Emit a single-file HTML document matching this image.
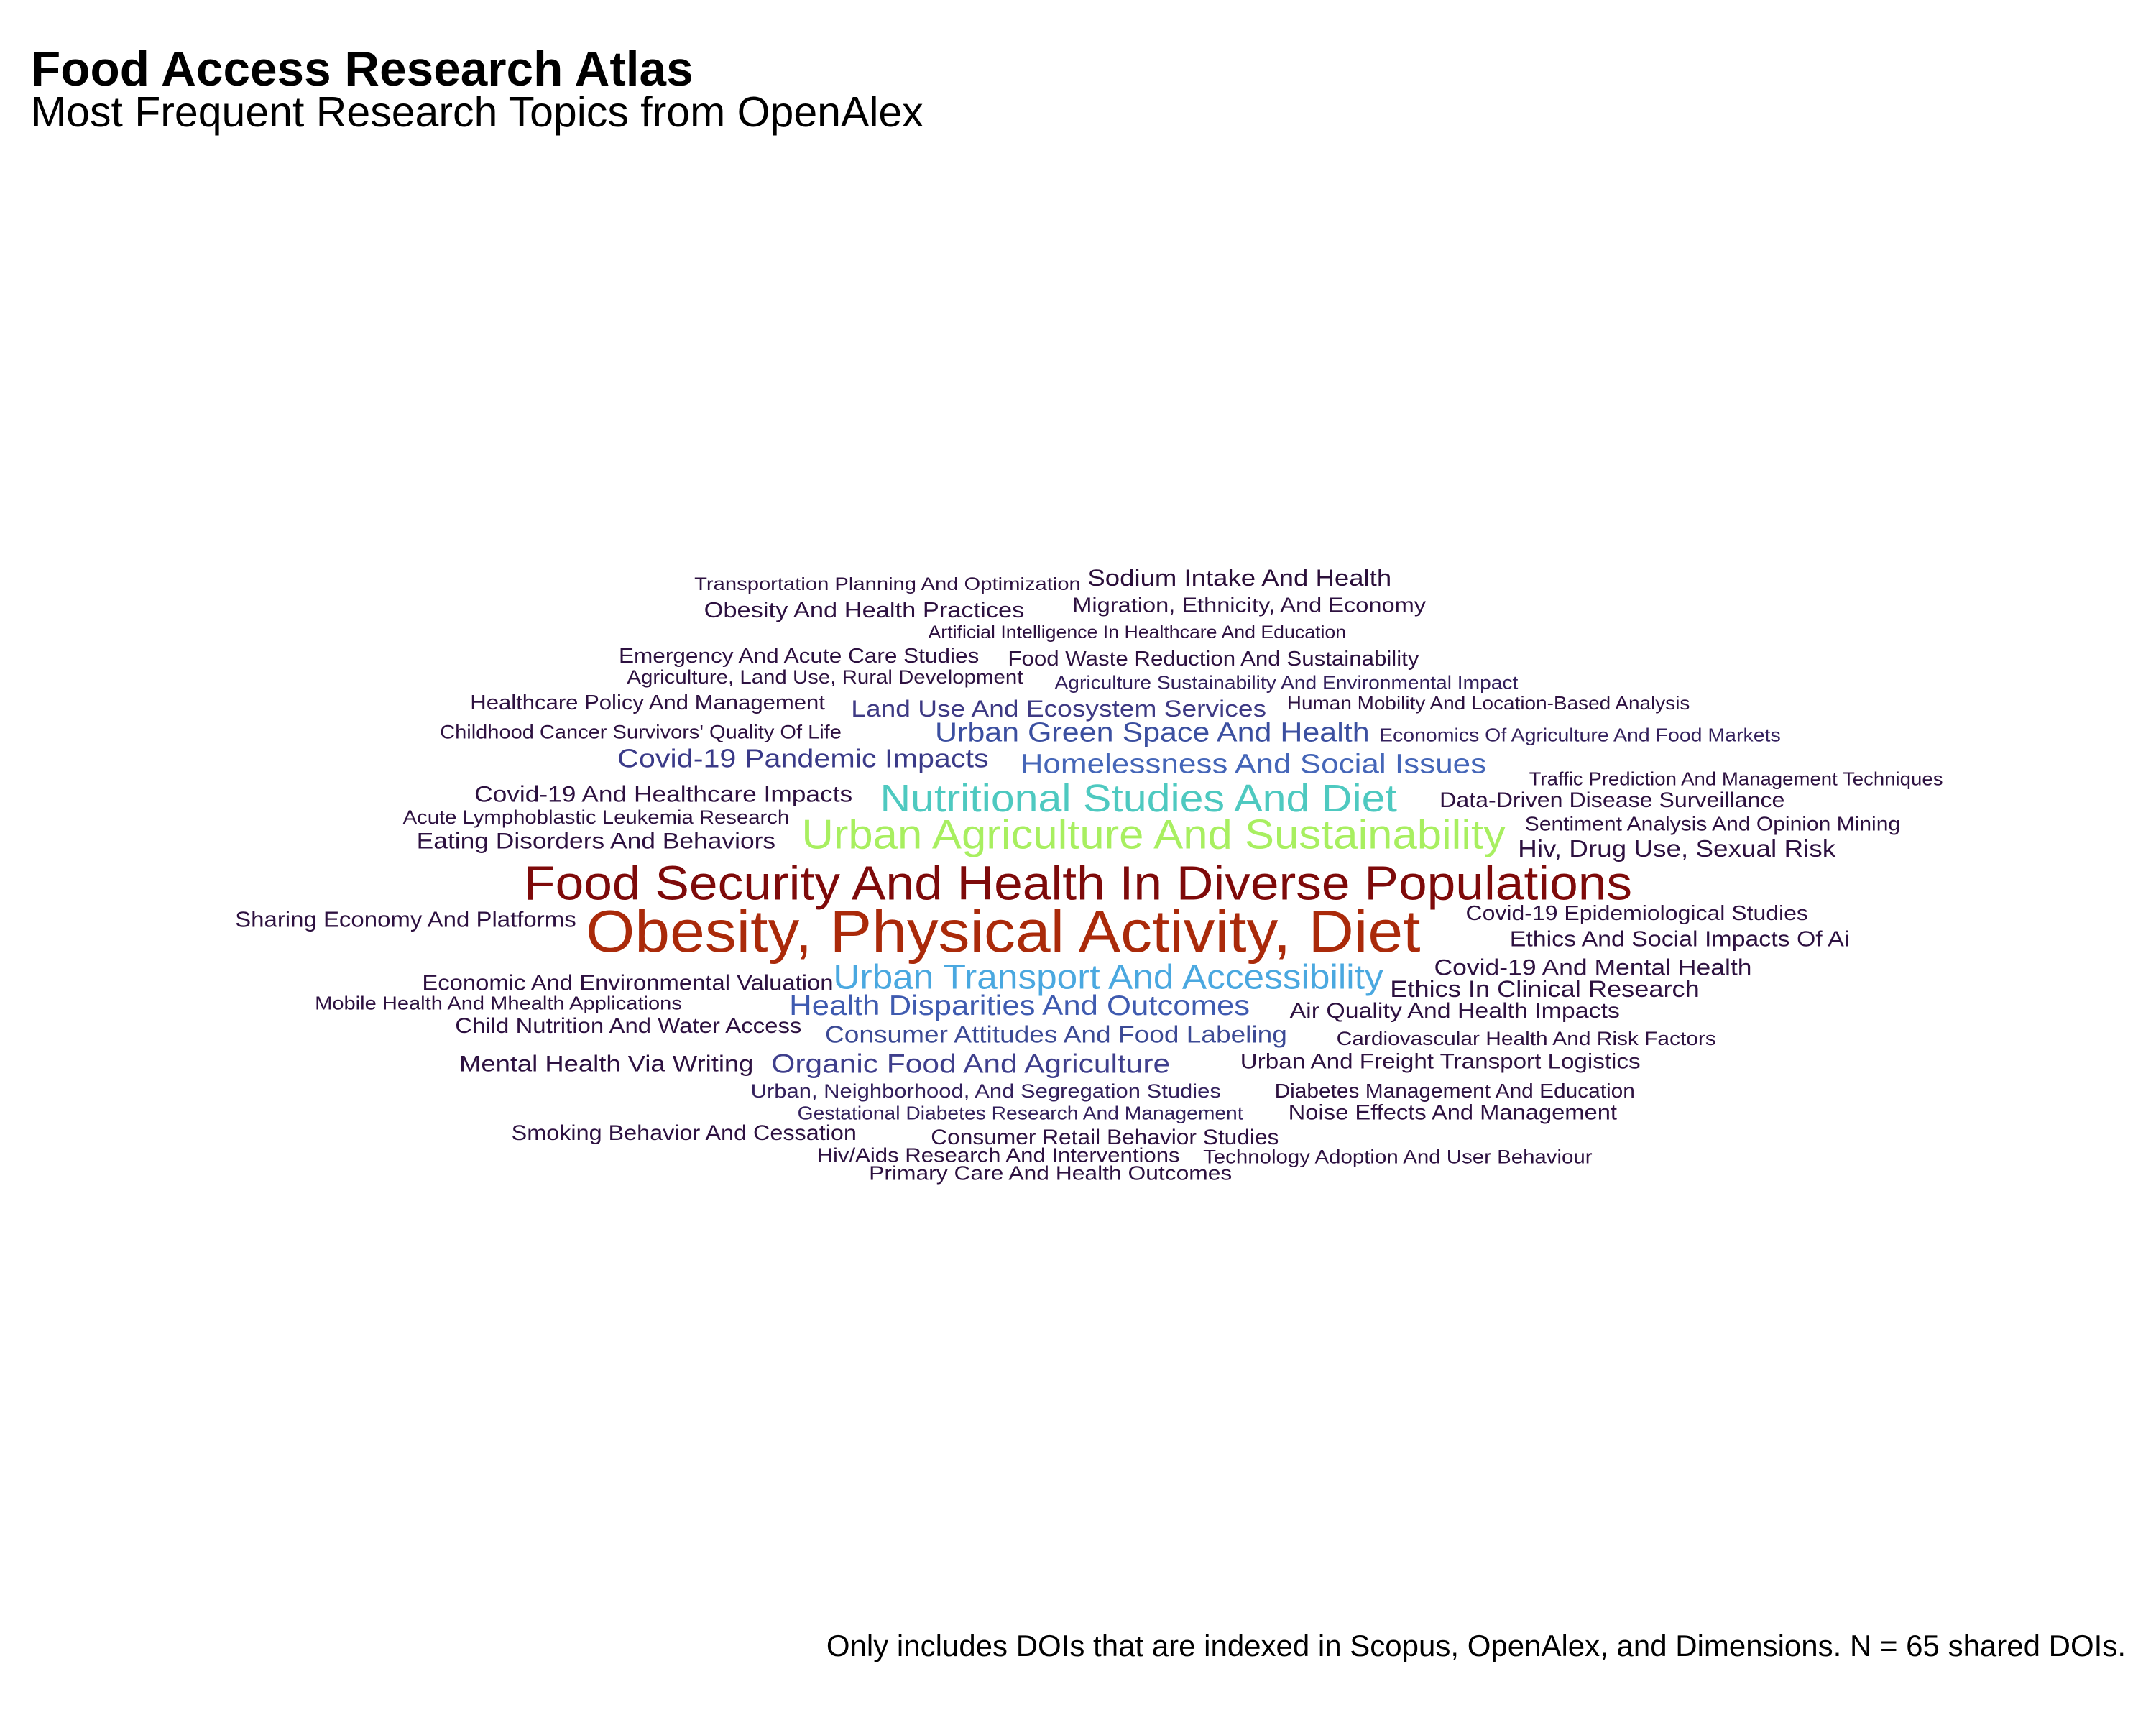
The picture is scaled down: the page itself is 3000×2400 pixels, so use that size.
<!DOCTYPE html>
<html><head><meta charset="utf-8"><style>
html,body{margin:0;padding:0;background:#fff;}
svg{display:block;font-family:"Liberation Sans",Arial,sans-serif;}
</style></head><body>
<svg id="chart" width="3000" height="2400" viewBox="0 0 3000 2400" xmlns="http://www.w3.org/2000/svg">
<rect width="3000" height="2400" fill="#fff"/>
<text x="43" y="119" font-size="67.5" font-weight="bold" fill="#000">Food Access Research Atlas</text>
<text x="43" y="176" font-size="59" fill="#000">Most Frequent Research Topics from OpenAlex</text>
<text x="2958" y="2304" font-size="42" text-anchor="end" fill="#000">Only includes DOIs that are indexed in Scopus, OpenAlex, and Dimensions. N = 65 shared DOIs.</text>
<g id="words"></g>
</svg>
<script>
const words = ["Transportation Planning And Optimization","Sodium Intake And Health","Obesity And Health Practices","Migration, Ethnicity, And Economy","Artificial Intelligence In Healthcare And Education","Emergency And Acute Care Studies","Food Waste Reduction And Sustainability","Agriculture, Land Use, Rural Development","Agriculture Sustainability And Environmental Impact","Healthcare Policy And Management","Land Use And Ecosystem Services","Human Mobility And Location-Based Analysis","Childhood Cancer Survivors' Quality Of Life","Urban Green Space And Health","Economics Of Agriculture And Food Markets","Covid-19 Pandemic Impacts","Homelessness And Social Issues","Traffic Prediction And Management Techniques","Nutritional Studies And Diet","Covid-19 And Healthcare Impacts","Data-Driven Disease Surveillance","Acute Lymphoblastic Leukemia Research","Sentiment Analysis And Opinion Mining","Urban Agriculture And Sustainability","Eating Disorders And Behaviors","Hiv, Drug Use, Sexual Risk","Food Security And Health In Diverse Populations","Sharing Economy And Platforms","Obesity, Physical Activity, Diet","Covid-19 Epidemiological Studies","Ethics And Social Impacts Of Ai","Covid-19 And Mental Health","Economic And Environmental Valuation","Urban Transport And Accessibility","Ethics In Clinical Research","Mobile Health And Mhealth Applications","Health Disparities And Outcomes","Air Quality And Health Impacts","Child Nutrition And Water Access","Consumer Attitudes And Food Labeling","Cardiovascular Health And Risk Factors","Mental Health Via Writing","Organic Food And Agriculture","Urban And Freight Transport Logistics","Urban, Neighborhood, And Segregation Studies","Diabetes Management And Education","Gestational Diabetes Research And Management","Noise Effects And Management","Smoking Behavior And Cessation","Consumer Retail Behavior Studies","Hiv/Aids Research And Interventions","Technology Adoption And User Behaviour","Primary Care And Health Outcomes"];
const freqSize = [13,17,16,15,13,15,15,14,13.5,15,17,13.5,14,20,13.5,19,20,13.5,28,16.5,15.5,14,14.5,30,16.5,17.5,35,16,43,15,16,16.5,16,25,17,13.5,20.5,15.5,15.5,17.5,14,16.5,19.5,15.5,14,14.5,13.5,15.5,15.5,15.5,14.5,14,14.5];
const wordColors = ["#2d1140","#2b0f3a","#2d1140","#2d1140","#2d1140","#2d1140","#2d1140","#2d1140","#33205c","#2d1140","#3e3a84","#2d1140","#2d1140","#3b4fa0","#33205c","#3a3a88","#4566b8","#2d1140","#4ec9c0","#2d1140","#2d1140","#2d1140","#2d1140","#a8ef60","#2d1140","#2d1140","#7e0a0a","#2d1140","#aa2a0a","#2d1140","#2d1140","#2d1140","#2d1140","#4aa8e0","#2d1140","#2d1140","#3f5bb0","#2d1140","#2d1140","#3c4a95","#2d1140","#2d1140","#3f3f8c","#2d1140","#33205c","#2d1140","#33205c","#2d1140","#2d1140","#2d1140","#2d1140","#2d1140","#2d1140"];
const layoutLeft = [505,791,512,780,675,450,733,456,767,342,619,936,320,680,1003,449,742,1112,640,345,1047,293,1109,583,303,1104,381,171,426,1066,1098,1043,307,606,1011,229,574,938,331,600,972,334,561,902,546,927,580,937,372,677,594,875,632];
const layoutRight = [786,1012,745,1037,979,712,1032,744,1104,600,921,1229,612,996,1295,719,1081,1413,1016,620,1298,574,1382,1095,564,1335,1187,419,1033,1315,1345,1274,606,1006,1236,496,909,1178,583,936,1248,548,851,1193,888,1189,904,1176,623,930,858,1158,896];
const layoutBase = [429,426,449,445,464,482,484,497,501,516,521,516,537,539,539,558,562,571,590,583,587,599,604,617,617,623,654,674,692,669,688,709,720,719,725,734,738,740,751,758,760,779,780,777,798,798,814,814,829,832,845,846,858];
const k = 3000/1568;
const g = document.getElementById('words');
for (let i = 0; i < words.length; i++) {
  const t = document.createElementNS('http://www.w3.org/2000/svg','text');
  
  
  t.setAttribute('x', (layoutLeft[i]*k).toFixed(1));
  t.setAttribute('y', (layoutBase[i]*k).toFixed(1));
  t.setAttribute('font-size', (freqSize[i]*k).toFixed(1));
  t.setAttribute('fill', wordColors[i]);
  t.setAttribute('textLength', ((layoutRight[i]-layoutLeft[i])*k).toFixed(1));
  t.setAttribute('lengthAdjust', 'spacingAndGlyphs');
  t.textContent = words[i];
  g.appendChild(t);
}
</script>
</body></html>
